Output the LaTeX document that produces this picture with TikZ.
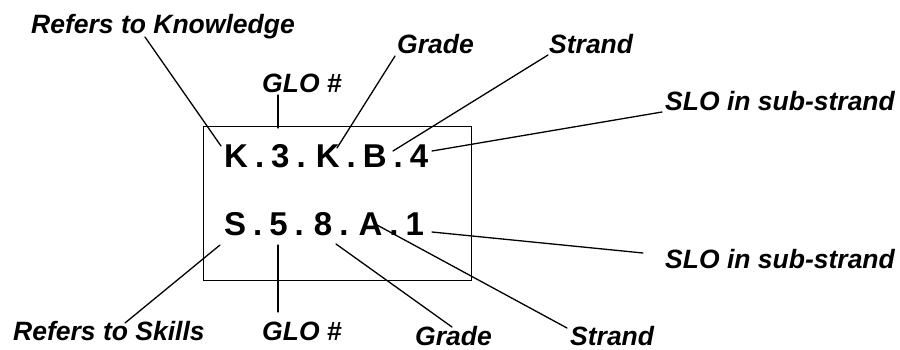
\documentclass[tikz,border=0pt]{standalone}
\usepackage{fontspec}
\setmainfont{Liberation Sans}
\begin{document}
\begin{tikzpicture}[x=1pt,y=-1pt,
  lbl/.style={anchor=base west,inner sep=0pt,font=\fontsize{26.5}{28}\selectfont\bfseries\itshape},
  code/.style={anchor=base west,inner sep=0pt,font=\fontsize{33}{35}\selectfont\bfseries,
    execute at begin node={\spaceskip=7pt\relax}},
  conn/.style={line width=1.3pt,line cap=round},
  frame/.style={draw,line width=1.3pt}]
\useasboundingbox (0,0) rectangle (900,349);
\node[frame,minimum width=268pt,minimum height=154pt,anchor=north west] (box) at (203,126) {};
\node[code] (kcode) at (224,167) {K . 3 . K . B . 4};
\node[code] (scode) at (224,235) {S . 5 . 8 . A . 1};
% labels
\node[lbl] (rk) at (31,33) {Refers to Knowledge};
\node[lbl] (glot) at (262,92) {GLO \#};
\node[lbl] (grt) at (397,53) {Grade};
\node[lbl] (stt) at (549,53) {Strand};
\node[lbl] (slot) at (665,110) {SLO in sub-strand};
\node[lbl] (rs) at (13,340) {Refers to Skills};
\node[lbl] (glob) at (262,340) {GLO \#};
\node[lbl] (grb) at (415,345) {Grade};
\node[lbl] (stb) at (570,345) {Strand};
\node[lbl] (slob) at (665,268) {SLO in sub-strand};
% connector end points
\coordinate (rk1) at (145,37);   \coordinate (rk2) at (221,146);
\coordinate (gt1) at (278,95);   \coordinate (gt2) at (278,128);
\coordinate (grt1) at (395,56);  \coordinate (grt2) at (337,148);
\coordinate (stt1) at (548,55);  \coordinate (stt2) at (393,151);
\coordinate (slt1) at (662,112); \coordinate (slt2) at (432,151);
\coordinate (slb1) at (432,232); \coordinate (slb2) at (643,253);
\coordinate (stb1) at (377,225); \coordinate (stb2) at (567,328);
\coordinate (grb1) at (336,244); \coordinate (grb2) at (452,327);
\coordinate (gb1) at (278,245);  \coordinate (gb2) at (278,312);
\coordinate (rs1) at (220,245);  \coordinate (rs2) at (125,323);
\draw[conn] (rk1) -- (rk2);
\draw[conn] (gt1) -- (gt2);
\draw[conn] (grt1) -- (grt2);
\draw[conn] (stt1) -- (stt2);
\draw[conn] (slt1) -- (slt2);
\draw[conn] (slb1) -- (slb2);
\draw[conn] (stb1) -- (stb2);
\draw[conn] (grb1) -- (grb2);
\draw[conn] (gb1) -- (gb2);
\draw[conn] (rs1) -- (rs2);
\end{tikzpicture}
\end{document}
